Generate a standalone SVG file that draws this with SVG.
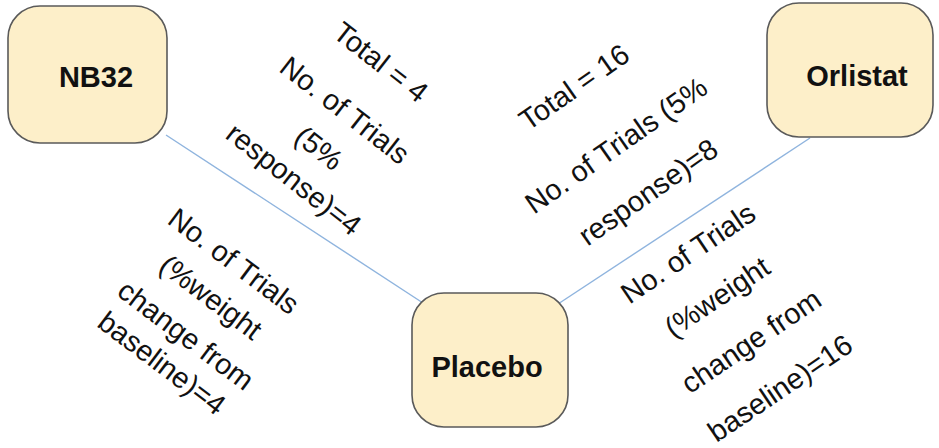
<svg xmlns="http://www.w3.org/2000/svg" width="939" height="448" viewBox="0 0 939 448">
  <style>
    .box { fill: #fdefc9; stroke: #5a5a5a; stroke-width: 1.6; }
    .name { font-family: "Liberation Sans", Arial, sans-serif; font-weight: bold; font-size: 29px; fill: #111; text-anchor: middle; }
    .edge { stroke: #8fb4de; stroke-width: 1.4; fill: none; }
    .lbl { font-family: "Liberation Sans", Arial, sans-serif; font-size: 29px; fill: #111; text-anchor: middle; }
  </style>
  <rect width="939" height="448" fill="#ffffff"/>

  <!-- connectors -->
  <g id="connectors">
    <line class="edge" x1="166" y1="135" x2="423" y2="303"/>
    <line class="edge" x1="810" y1="138" x2="558" y2="304"/>
  </g>

  <!-- nodes -->
  <g id="node-nb32">
    <rect class="box" x="8" y="6" width="159" height="137" rx="32" ry="32"/>
    <text class="name" x="96" y="87">NB32</text>
  </g>
  <g id="node-orlistat">
    <rect class="box" x="767" y="3" width="166" height="134" rx="32" ry="32"/>
    <text class="name" x="857" y="86">Orlistat</text>
  </g>
  <g id="node-placebo">
    <rect class="box" x="412" y="293" width="156" height="134" rx="32" ry="32"/>
    <text class="name" x="487" y="377">Placebo</text>
  </g>

  <!-- edge labels -->
  <g id="label-nb32-response" class="lbl">
    <text transform="translate(381,62) rotate(38)" dy="0.35em">Total = 4</text>
    <text transform="translate(345,110) rotate(38)" dy="0.35em">No. of Trials</text>
    <text transform="translate(319,148) rotate(38)" dy="0.35em">(5%</text>
    <text transform="translate(294,179) rotate(38)" dy="0.35em">response)=4</text>
  </g>
  <g id="label-nb32-weight" class="lbl">
    <text transform="translate(234,261) rotate(37)" dy="0.35em">No. of Trials</text>
    <text transform="translate(211,297) rotate(37)" dy="0.35em">(%weight</text>
    <text transform="translate(186,335) rotate(37)" dy="0.35em">change from</text>
    <text transform="translate(162,363) rotate(37)" dy="0.35em">baseline)=4</text>
  </g>
  <g id="label-orlistat-response" class="lbl">
    <text transform="translate(574,87) rotate(-35)" dy="0.35em">Total = 16</text>
    <text transform="translate(616,145) rotate(-35)" dy="0.35em">No. of Trials (5%</text>
    <text transform="translate(648,192) rotate(-35)" dy="0.35em">response)=8</text>
  </g>
  <g id="label-orlistat-weight" class="lbl">
    <text transform="translate(688,253) rotate(-34)" dy="0.35em">No. of Trials</text>
    <text transform="translate(717,297) rotate(-34)" dy="0.35em">(%weight</text>
    <text transform="translate(751,341) rotate(-34)" dy="0.35em">change from</text>
    <text transform="translate(780,388) rotate(-34)" dy="0.35em">baseline)=16</text>
  </g>
</svg>
